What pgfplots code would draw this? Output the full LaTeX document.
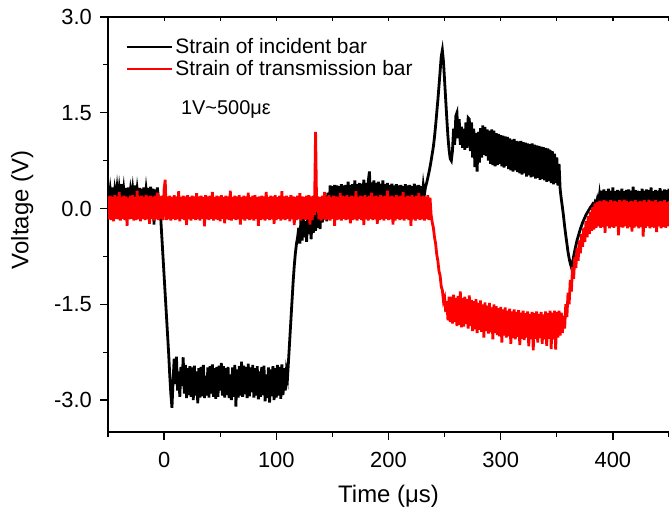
\documentclass[border=0pt]{standalone}
\usepackage{fontspec}
\setmainfont{Liberation Sans}
\usepackage{pgfplots}
\pgfplotsset{compat=1.18}
\begin{document}
\begin{tikzpicture}
\begin{axis}[
  scale only axis, width=561bp, height=415bp,
  xmin=-50, xmax=450, ymin=-3.5, ymax=3.0,
  axis x line*=bottom, axis y line*=left,
  xtick={0,100,200,300,400}, xticklabels={0,100,200,300,400},
  minor xtick={-50,50,150,250,350,450},
  ytick={-3,-1.5,0,1.5,3}, yticklabels={-3.0,-1.5,0.0,1.5,3.0},
  minor ytick={-2.25,-0.75,0.75,2.25},
  tick align=outside,
  major tick length=8bp, minor tick length=5bp,
  every tick/.style={line width=1.2bp, black},
  axis line style={line width=1.3bp},
  xticklabel style={font=\fontsize{22}{26}\selectfont, anchor=base, inner sep=0pt, yshift=-27bp},
  yticklabel style={font=\fontsize{22}{26}\selectfont, anchor=east, inner sep=0pt, xshift=-8bp},
  xlabel={Time (μs)}, ylabel={Voltage (V)},
  xlabel style={font=\fontsize{24}{28}\selectfont, at={(axis description cs:0.5,-0.171)}, anchor=base},
  ylabel style={font=\fontsize{24}{28}\selectfont, at={(axis description cs:-0.153,0.535)}, anchor=center},
  legend style={draw=none, fill=none, at={(axis description cs:0.032,0.953)}, anchor=north west,
    font=\fontsize{21}{22}\selectfont, inner sep=0pt, row sep=1bp},
  legend cell align=left,
  legend image code/.code={\draw[#1, line width=2.2bp] (0bp,0bp) -- (45bp,0bp);},
]
\addplot[black, line width=2.8bp] coordinates {
(-50,0.31)(-49,0.14)(-48,0.30)(-47,0.15)(-46,0.33)(-45,0.12)(-44,0.29)(-43,0.16)(-42,0.32)(-41,0.13)
(-40,0.31)(-39,0.15)(-38,0.38)(-37,0.14)(-36,0.30)(-35,0.11)(-34,0.32)(-33,0.15)(-32,0.33)(-31,0.13)
(-30,0.29)(-29,0.16)(-28,0.31)(-27,0.14)(-26,0.36)(-25,0.12)(-24,0.30)(-23,0.15)(-22,0.32)(-21,0.13)
(-20,0.31)(-19,0.14)(-18,0.33)(-17,0.10)(-16,0.30)(-15,0.15)(-14,0.32)(-13,0.13)(-12,0.34)(-11,0.14)
(-10,0.31)(-9,-0.25)(-8,0.30)(-7,0.15)(-6,0.33)(-5,0.16)
(-4,0.12)(-3,-0.15)(-2,-0.45)(-1,-0.75)(0,-1.05)(1,-1.35)(2,-1.65)(3,-1.95)(4,-2.25)(5,-2.6)(6,-2.9)(7,-3.12)
(8,-2.70)(9,-2.35)(10,-2.75)(11,-2.32)(12,-2.85)(13,-2.55)(14,-2.95)(15,-2.48)(16,-2.78)(17,-2.33)
(18,-2.90)(19,-2.45)(20,-2.97)(21,-2.50)(22,-2.92)(23,-2.47)(24,-2.95)(25,-2.49)(26,-3.00)(27,-2.46)
(28,-2.93)(29,-2.55)(30,-3.05)(31,-2.50)(32,-2.96)(33,-2.48)(34,-2.94)(35,-2.45)(36,-2.97)(37,-2.62)
(38,-2.93)(39,-2.49)(40,-2.96)(41,-2.47)(42,-2.90)(43,-2.44)(44,-2.95)(45,-2.50)(46,-2.98)(47,-2.48)
(48,-2.95)(49,-2.46)(50,-2.85)(51,-2.42)(52,-2.93)(53,-2.47)(54,-2.96)(55,-2.50)(56,-2.92)(57,-2.48)
(58,-2.97)(59,-2.60)(60,-3.00)(61,-2.49)(62,-2.95)(63,-2.45)(64,-3.10)(65,-2.52)(66,-2.96)(67,-2.47)
(68,-2.93)(69,-2.40)(70,-2.95)(71,-2.46)(72,-2.91)(73,-2.48)(74,-2.97)(75,-2.43)(76,-2.94)(77,-2.49)
(78,-2.88)(79,-2.45)(80,-2.96)(81,-2.50)(82,-2.93)(83,-2.47)(84,-2.99)(85,-2.55)(86,-2.95)(87,-2.48)
(88,-2.92)(89,-2.46)(90,-3.02)(91,-2.60)(92,-2.97)(93,-2.49)(94,-3.04)(95,-2.52)(96,-2.94)(97,-2.47)
(98,-3.00)(99,-2.50)(100,-2.96)(101,-2.45)(102,-2.93)(103,-2.48)(104,-2.98)(105,-2.44)(106,-2.92)(107,-2.50)
(108,-2.85)(109,-2.55)
(110,-2.65)(111,-2.35)(112,-2.05)(113,-1.75)(114,-1.45)(115,-1.15)(116,-0.9)(117,-0.7)(118,-0.55)(119,-0.45)
(120,-0.30)(121,-0.55)(122,-0.15)(123,-0.50)(124,-0.10)(125,-0.45)(126,-0.20)(127,-0.52)(128,-0.12)(129,-0.40)
(130,-0.08)(131,-0.48)(132,-0.15)(133,-0.38)(134,-0.05)(135,-0.35)(136,0.00)(137,-0.30)(138,0.05)(139,-0.32)
(140,0.10)(141,-0.22)(142,0.15)(143,-0.15)(144,0.20)(145,-0.20)(146,0.25)(147,-0.05)
(148,0.36)(149,0.12)(150,0.35)(151,0.13)(152,0.37)(153,0.11)(154,0.36)(155,0.14)(156,0.35)(157,0.12)
(158,0.38)(159,0.13)(160,0.36)(161,0.11)(162,0.37)(163,0.14)(164,0.42)(165,0.12)(166,0.37)(167,0.13)
(168,0.38)(169,0.15)(170,0.44)(171,0.12)(172,0.38)(173,0.14)(174,0.40)(175,0.13)(176,0.39)(177,0.15)
(178,0.45)(179,0.14)(180,0.40)(181,0.12)(182,0.43)(183,0.58)(184,0.15)(185,0.41)(186,0.13)(187,0.44)
(188,0.14)(189,0.40)(190,0.12)(191,0.42)(192,0.15)(193,0.39)(194,0.13)(195,0.44)(196,0.14)(197,0.38)
(198,0.12)(199,0.40)(200,0.15)(201,0.37)(202,0.12)(203,0.39)(204,0.13)(205,0.36)(206,0.14)(207,0.38)
(208,0.12)(209,0.36)(210,0.13)(211,0.37)(212,0.15)(213,0.35)(214,0.12)(215,0.38)(216,0.14)(217,0.36)
(218,0.13)(219,0.37)(220,0.12)(221,0.35)(222,0.14)(223,0.39)(224,0.13)(225,0.36)(226,0.15)(227,0.37)
(228,0.12)(229,0.35)(230,0.16)(231,0.36)(232,0.22)(233,0.34)
(234,0.40)(235,0.48)(236,0.56)(237,0.65)(238,0.75)(239,0.86)(240,0.97)(241,1.12)(242,1.30)(243,1.50)
(244,1.70)(245,1.92)(246,2.15)(247,2.38)(248,2.48)(249,2.30)(250,2.00)(251,1.70)(252,1.40)(253,1.12)
(254,0.92)(255,0.78)(256,0.75)
(257,0.90)(258,1.25)(259,1.00)(260,1.45)(261,1.50)(262,1.10)(263,1.40)(264,1.00)(265,1.28)(266,0.95)
(267,1.25)(268,0.92)(269,1.35)(270,0.95)(271,1.42)(272,1.40)(273,0.90)(274,1.35)(275,0.80)(276,1.25)
(277,0.65)(278,1.18)(279,0.58)(280,1.20)(281,0.72)(282,1.26)(283,0.80)(284,1.30)(285,0.84)(286,1.28)
(287,0.82)(288,1.24)(289,0.75)(290,1.22)(291,0.70)(292,1.24)(293,0.68)(294,1.22)(295,0.66)(296,1.18)
(297,0.68)(298,1.17)(299,0.70)(300,1.15)(301,0.66)(302,1.14)(303,0.64)(304,1.13)(305,0.67)(306,1.12)
(307,0.62)(308,1.10)(309,0.60)(310,1.08)(311,0.58)(312,1.09)(313,0.60)(314,1.06)(315,0.57)(316,1.05)
(317,0.55)(318,1.06)(319,0.53)(320,1.04)(321,0.55)(322,1.03)(323,0.50)(324,1.02)(325,0.52)(326,1.01)
(327,0.49)(328,1.02)(329,0.50)(330,1.00)(331,0.47)(332,0.99)(333,0.48)(334,0.98)(335,0.45)(336,0.97)
(337,0.46)(338,0.96)(339,0.44)(340,0.95)(341,0.42)(342,0.94)(343,0.43)(344,0.92)(345,0.40)(346,0.90)
(347,0.38)(348,0.86)(349,0.40)(350,0.80)(351,0.36)(352,0.70)
(353,0.30)(354,0.15)(355,0.02)(356,-0.12)(357,-0.28)(358,-0.42)(359,-0.55)(360,-0.68)(361,-0.78)(362,-0.86)
(363,-0.92)(364,-0.85)(365,-0.75)(366,-0.66)(367,-0.58)(368,-0.50)(369,-0.44)(370,-0.38)(371,-0.32)(372,-0.27)
(373,-0.22)(374,-0.18)(375,-0.14)(376,-0.10)(377,-0.07)(378,-0.04)(379,-0.01)(380,0.02)(381,0.04)(382,0.07)
(383,0.05)(384,0.10)(385,0.06)(386,0.14)(387,0.05)(388,0.20)
(389,0.02)(390,0.28)(391,0.05)(392,0.30)(393,0.03)(394,0.27)(395,0.06)(396,0.31)(397,0.04)(398,0.28)
(399,0.05)(400,0.33)(401,0.03)(402,0.27)(403,0.06)(404,0.29)(405,0.04)(406,0.28)(407,0.05)(408,0.31)
(409,0.03)(410,0.27)(411,0.06)(412,0.29)(413,0.04)(414,0.30)(415,0.05)(416,0.28)(417,0.03)(418,0.34)
(419,0.05)(420,0.29)(421,0.04)(422,0.28)(423,0.06)(424,0.27)(425,0.03)(426,0.31)(427,0.05)(428,0.28)
(429,0.04)(430,0.30)(431,0.06)(432,0.29)(433,0.03)(434,0.33)(435,0.05)(436,0.27)(437,0.04)(438,0.29)
(439,0.06)(440,0.28)(441,0.03)(442,0.32)(443,0.05)(444,0.28)(445,0.04)(446,0.30)(447,0.06)(448,0.29)
(449,0.03)(450,0.31)
};
\addlegendentry{Strain of incident bar}
\addplot[red, line width=2.8bp] coordinates {
(-50,0.19)(-49,-0.17)(-48,0.20)(-47,-0.18)(-46,0.18)(-45,-0.20)(-44,0.21)(-43,-0.16)(-42,0.19)(-41,-0.17)
(-40,0.26)(-39,-0.19)(-38,0.18)(-37,-0.16)(-36,0.20)(-35,-0.18)(-34,0.19)(-33,-0.27)(-32,0.17)(-31,-0.17)
(-30,0.20)(-29,-0.16)(-28,0.21)(-27,-0.19)(-26,0.18)(-25,-0.18)(-24,0.28)(-23,-0.17)(-22,0.19)(-21,-0.20)
(-20,0.20)(-19,-0.16)(-18,0.18)(-17,-0.18)(-16,0.21)(-15,-0.17)(-14,0.19)(-13,-0.24)(-12,0.20)(-11,-0.16)
(-10,0.18)(-9,-0.19)(-8,0.20)(-7,-0.17)(-6,0.25)(-5,-0.18)(-4,0.19)(-3,-0.16)(-2,0.20)(-1,-0.18)
(0,0.30)(1,0.45)(2,-0.18)(3,0.19)(4,-0.17)(5,0.20)(6,-0.19)(7,0.18)(8,-0.16)(9,0.21)
(10,-0.18)(11,0.19)(12,-0.17)(13,0.27)(14,-0.20)(15,0.18)(16,-0.16)(17,0.20)(18,-0.18)(19,0.19)
(20,-0.26)(21,0.21)(22,-0.17)(23,0.18)(24,-0.19)(25,0.20)(26,-0.16)(27,0.19)(28,-0.18)(29,0.24)
(30,-0.17)(31,0.19)(32,-0.19)(33,0.20)(34,-0.16)(35,0.18)(36,-0.28)(37,0.21)(38,-0.17)(39,0.19)
(40,-0.18)(41,0.20)(42,-0.16)(43,0.26)(44,-0.19)(45,0.18)(46,-0.17)(47,0.20)(48,-0.18)(49,0.19)
(50,-0.20)(51,0.21)(52,-0.16)(53,0.18)(54,-0.23)(55,0.20)(56,-0.17)(57,0.19)(58,-0.18)(59,0.28)
(60,-0.19)(61,0.18)(62,-0.16)(63,0.20)(64,-0.18)(65,0.19)(66,-0.17)(67,0.21)(68,-0.25)(69,0.18)
(70,-0.17)(71,0.20)(72,-0.19)(73,0.19)(74,-0.16)(75,0.25)(76,-0.18)(77,0.18)(78,-0.17)(79,0.20)
(80,-0.19)(81,0.21)(82,-0.16)(83,0.18)(84,-0.27)(85,0.19)(86,-0.18)(87,0.20)(88,-0.17)(89,0.19)
(90,-0.19)(91,0.26)(92,-0.16)(93,0.18)(94,-0.18)(95,0.20)(96,-0.17)(97,0.19)(98,-0.24)(99,0.21)
(100,-0.18)(101,0.18)(102,-0.16)(103,0.20)(104,-0.19)(105,0.27)(106,-0.17)(107,0.19)(108,-0.18)(109,0.20)
(110,-0.16)(111,0.18)(112,-0.20)(113,0.21)(114,-0.17)(115,0.19)(116,-0.26)(117,0.18)(118,-0.18)(119,0.20)
(120,-0.17)(121,0.24)(122,-0.19)(123,0.19)(124,-0.16)(125,0.18)(126,-0.18)(127,0.20)(128,-0.17)(129,0.21)
(130,-0.25)(131,0.19)(132,-0.18)(133,0.20)(134,-0.10)(135,1.20)(136,-0.05)(137,0.19)(138,-0.17)(139,0.18)
(140,-0.19)(141,0.20)(142,-0.16)(143,0.26)(144,-0.18)(145,0.19)(146,-0.17)(147,0.21)(148,-0.19)(149,0.18)
(150,-0.16)(151,0.20)(152,-0.27)(153,0.19)(154,-0.18)(155,0.18)(156,-0.17)(157,0.24)(158,-0.19)(159,0.20)
(160,-0.16)(161,0.19)(162,-0.18)(163,0.21)(164,-0.17)(165,0.18)(166,-0.23)(167,0.20)(168,-0.18)(169,0.19)
(170,-0.17)(171,0.27)(172,-0.19)(173,0.18)(174,-0.16)(175,0.20)(176,-0.18)(177,0.19)(178,-0.26)(179,0.21)
(180,-0.17)(181,0.18)(182,-0.19)(183,0.20)(184,-0.16)(185,0.25)(186,-0.18)(187,0.19)(188,-0.17)(189,0.20)
(190,-0.24)(191,0.18)(192,-0.18)(193,0.21)(194,-0.17)(195,0.19)(196,-0.19)(197,0.20)(198,-0.16)(199,0.28)
(200,-0.18)(201,0.19)(202,-0.17)(203,0.20)(204,-0.25)(205,0.18)(206,-0.19)(207,0.21)(208,-0.16)(209,0.19)
(210,-0.18)(211,0.20)(212,-0.17)(213,0.26)(214,-0.19)(215,0.18)(216,-0.16)(217,0.20)(218,-0.18)(219,0.19)
(220,-0.27)(221,0.21)(222,-0.17)(223,0.18)(224,-0.19)(225,0.20)(226,-0.16)(227,0.24)(228,-0.18)(229,0.19)
(230,-0.17)(231,0.20)(232,-0.19)(233,0.18)(234,-0.16)(235,0.21)(236,-0.18)(237,0.17)
(238,-0.10)(239,-0.22)(240,-0.30)(241,-0.45)(242,-0.55)(243,-0.72)(244,-0.82)(245,-0.98)(246,-1.05)(247,-1.22)
(248,-1.28)(249,-1.45)(250,-1.40)(251,-1.62)(252,-1.45)(253,-1.75)(254,-1.38)(255,-1.78)
(256,-1.38)(257,-1.80)(258,-1.35)(259,-1.78)(260,-1.40)(261,-1.84)(262,-1.37)(263,-1.82)(264,-1.30)(265,-1.86)
(266,-1.40)(267,-1.85)(268,-1.38)(269,-1.81)(270,-1.42)(271,-1.88)(272,-1.36)(273,-1.84)(274,-1.43)(275,-1.92)
(276,-1.45)(277,-1.89)(278,-1.42)(279,-1.95)(280,-1.48)(281,-1.90)(282,-1.44)(283,-1.93)(284,-1.50)(285,-2.02)
(286,-1.47)(287,-1.92)(288,-1.52)(289,-1.96)(290,-1.48)(291,-1.94)(292,-1.55)(293,-2.05)(294,-1.50)(295,-1.95)
(296,-1.53)(297,-1.98)(298,-1.56)(299,-2.00)(300,-1.54)(301,-2.10)(302,-1.58)(303,-1.99)(304,-1.55)(305,-2.02)
(306,-1.60)(307,-2.00)(308,-1.57)(309,-2.12)(310,-1.61)(311,-2.03)(312,-1.58)(313,-2.05)(314,-1.62)(315,-2.01)
(316,-1.59)(317,-2.14)(318,-1.63)(319,-2.04)(320,-1.60)(321,-2.06)(322,-1.64)(323,-2.02)(324,-1.61)(325,-2.16)
(326,-1.65)(327,-2.05)(328,-1.62)(329,-2.22)(330,-1.64)(331,-2.04)(332,-1.61)(333,-2.10)(334,-1.65)(335,-2.03)
(336,-1.62)(337,-2.12)(338,-1.66)(339,-2.05)(340,-1.61)(341,-2.15)(342,-1.64)(343,-2.04)(344,-1.60)(345,-2.20)
(346,-1.63)(347,-2.05)(348,-1.60)(349,-2.21)(350,-1.62)(351,-2.02)(352,-1.60)(353,-1.99)(354,-1.63)(355,-1.95)
(356,-1.68)(357,-1.88)(358,-1.50)(359,-1.70)(360,-1.32)(361,-1.50)(362,-1.12)(363,-1.30)(364,-0.92)(365,-1.10)
(366,-0.76)(367,-0.93)(368,-0.62)(369,-0.82)(370,-0.50)(371,-0.70)(372,-0.40)(373,-0.60)(374,-0.30)(375,-0.52)
(376,-0.20)(377,-0.45)(378,-0.12)(379,-0.40)(380,-0.05)(381,-0.35)(382,0.02)(383,-0.33)(384,0.08)(385,-0.30)
(386,0.10)(387,-0.28)(388,0.12)(389,-0.30)(390,0.11)(391,-0.29)(392,0.13)(393,-0.38)(394,0.12)(395,-0.28)
(396,0.10)(397,-0.31)(398,0.13)(399,-0.29)(400,0.11)(401,-0.30)(402,0.12)(403,-0.28)(404,0.10)(405,-0.42)
(406,0.13)(407,-0.29)(408,0.11)(409,-0.30)(410,0.14)(411,-0.28)(412,0.12)(413,-0.31)(414,0.10)(415,-0.29)
(416,0.12)(417,-0.36)(418,0.11)(419,-0.30)(420,0.13)(421,-0.28)(422,0.10)(423,-0.31)(424,0.12)(425,-0.29)
(426,0.11)(427,-0.44)(428,0.13)(429,-0.30)(430,0.10)(431,-0.28)(432,0.14)(433,-0.31)(434,0.12)(435,-0.29)
(436,0.11)(437,-0.30)(438,0.13)(439,-0.37)(440,0.10)(441,-0.28)(442,0.12)(443,-0.31)(444,0.11)(445,-0.29)
(446,0.13)(447,-0.30)(448,0.10)(449,-0.28)(450,0.12)
};
\addlegendentry{Strain of transmission bar}
\node[anchor=west, inner sep=0pt, font=\fontsize{20}{24}\selectfont] at (axis cs:15,1.55) {1V\textasciitilde500με};
\end{axis}
\begin{axis}[
  scale only axis, width=561bp, height=415bp,
  xmin=-50, xmax=450, ymin=-3.5, ymax=3.0,
  axis x line*=top, axis y line=none,
  xtick={-50,0,50,100,150,200,250,300,350,400,450}, xticklabels={},
  ytick=\empty,
  tick align=inside, major tick length=4bp,
  every tick/.style={line width=1.2bp, black},
  axis line style={line width=1.3bp},
]
\end{axis}
\pgfresetboundingbox
\path[use as bounding box] (-108bp,-77bp) rectangle (561bp,432bp);
\end{tikzpicture}
\end{document}
